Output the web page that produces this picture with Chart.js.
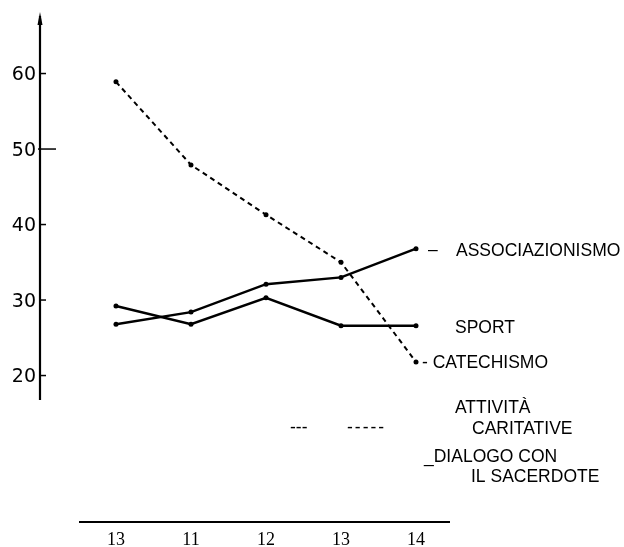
<!DOCTYPE html>
<html>
<head>
<meta charset="utf-8">
<style>
  html, body { margin: 0; padding: 0; background: #fff; }
  #wrap { width: 624px; height: 547px; }
</style>
<script src="https://cdn.jsdelivr.net/npm/chart.js@4"></script>
</head>
<body>
<div id="wrap"><canvas id="chart" width="624" height="547"></canvas></div>
<script>
const categories = ['13', '11', '12', '13', '14'];
const yTicks = [20, 30, 40, 50, 60];
const associazionismo = [26.8, 28.4, 32.1, 33.0, 36.8];
const sport = [29.2, 26.8, 30.3, 26.6, 26.6];
const catechismo = [58.9, 47.9, 41.3, 35.0, 21.8];

const legendLines = [
    { text: '–', x: 428, y: 255 },
    { text: 'ASSOCIAZIONISMO', x: 456, y: 256 },
    { text: 'SPORT', x: 455, y: 333 },
    { text: '- CATECHISMO', x: 422, y: 368 },
    { text: 'ATTIVITÀ', x: 455, y: 413 },
    { text: 'CARITATIVE', x: 472, y: 434 },
    { text: '_DIALOGO CON', x: 424, y: 462 },
    { text: 'IL SACERDOTE', x: 471, y: 482 },
];

function toPoints(values) {
    return values.map((v, i) => ({ x: i, y: v }));
}

const axesPlugin = {
    id: 'handAxes',
    afterDraw(chart) {
        const ctx = chart.ctx;
        const xs = chart.scales.x;
        const ys = chart.scales.y;
        const left = chart.chartArea.left;
        ctx.save();
        ctx.strokeStyle = '#000';
        ctx.fillStyle = '#000';

        // vertical axis with arrow
        ctx.lineWidth = 2.2;
        ctx.beginPath();
        ctx.moveTo(left, chart.chartArea.top + 4);
        ctx.lineTo(left, chart.chartArea.bottom);
        ctx.stroke();
        ctx.beginPath();
        ctx.moveTo(left, chart.chartArea.top);
        ctx.lineTo(left - 2.5, chart.chartArea.top + 13);
        ctx.lineTo(left + 2.5, chart.chartArea.top + 13);
        ctx.closePath();
        ctx.fill();

        // y ticks
        ctx.font = '19px "DejaVu Sans"';
        ctx.textAlign = 'right';
        ctx.textBaseline = 'middle';
        yTicks.forEach(t => {
            const y = ys.getPixelForValue(t);
            ctx.lineWidth = 1.5;
            ctx.beginPath();
            ctx.moveTo(t === 50 ? left - 2 : left, y);
            ctx.lineTo(t === 50 ? left + 16 : left + 6, y);
            ctx.stroke();
            ctx.fillText(String(t), left - 4, y + 2);
        });

        // bottom axis
        ctx.lineWidth = 2;
        ctx.beginPath();
        ctx.moveTo(79, 522);
        ctx.lineTo(450, 522);
        ctx.stroke();
        ctx.font = '18px "Liberation Serif"';
        ctx.textAlign = 'center';
        ctx.textBaseline = 'alphabetic';
        categories.forEach((c, i) => {
            ctx.fillText(c, xs.getPixelForValue(i), 545);
        });

        // labels
        ctx.font = '17.5px "Liberation Sans"';
        ctx.textAlign = 'left';
        legendLines.forEach(l => ctx.fillText(l.text, l.x, l.y));
        ctx.fillText('---', 290, 433);
        ctx.letterSpacing = '2px';
        ctx.fillText('-----', 347, 433);
        ctx.restore();
    }
};

const solid = {
    borderColor: '#000',
    backgroundColor: '#000',
    borderWidth: 2.5,
    pointRadius: 2.5,
    pointBorderWidth: 0,
    tension: 0,
    fill: false,
};

new Chart(document.getElementById('chart'), {
    type: 'line',
    data: {
        datasets: [
            { ...solid, label: 'ASSOCIAZIONISMO', data: toPoints(associazionismo) },
            { ...solid, label: 'SPORT', data: toPoints(sport) },
            { ...solid, label: 'CATECHISMO', data: toPoints(catechismo), borderWidth: 2, borderDash: [5, 4] },
        ]
    },
    options: {
        responsive: false,
        animation: false,
        layout: { padding: { left: 40, right: 174, top: 12, bottom: 147 } },
        plugins: { legend: { display: false }, tooltip: { enabled: false } },
        scales: {
            x: { type: 'linear', display: false, min: -1.0133, max: 4.4533 },
            y: { display: false, min: 16.76, max: 68.15 }
        }
    },
    plugins: [axesPlugin]
});
</script>
</body>
</html>
